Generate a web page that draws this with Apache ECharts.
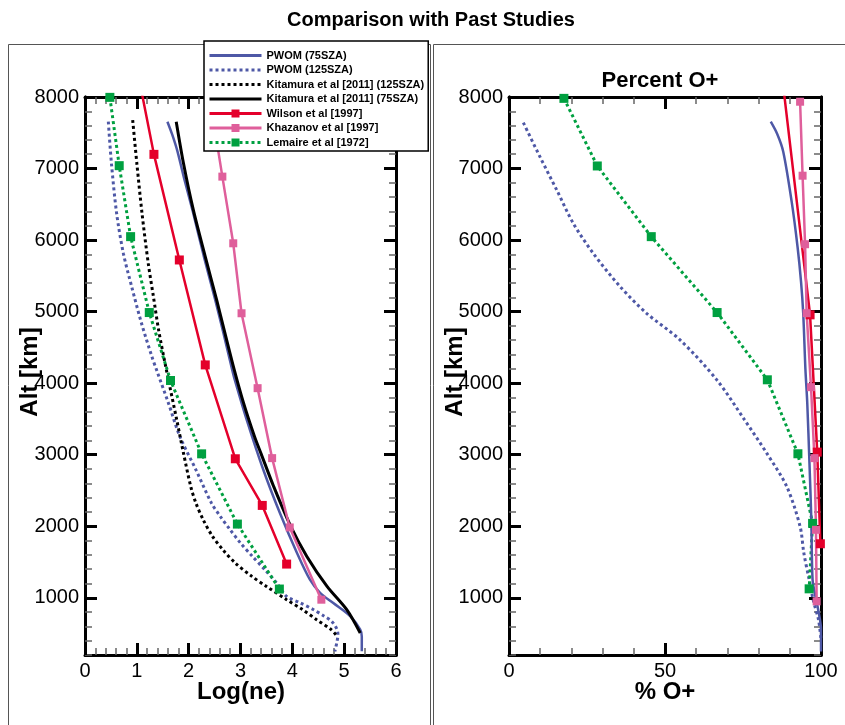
<!DOCTYPE html>
<html>
<head>
<meta charset="utf-8">
<script src="https://cdn.jsdelivr.net/npm/echarts@6/dist/echarts.min.js"></script>
<style>html,body{margin:0;padding:0;background:#fff}#c{width:845px;height:725px}</style>
</head>
<body>
<div id="c"></div>
<script>
// ---- data: [value, altitude km] ----
var altLabels = [1000, 2000, 3000, 4000, 5000, 6000, 7000, 8000];
var neTicks = [0, 1, 2, 3, 4, 5, 6];
var pctTicks = [0, 50, 100];

// Left panel: Log(ne)
var pwom75Ne = [[1.59,7655],[1.68,7480],[1.78,7250],[1.92,6840],[2.08,6400],[2.29,5780],[2.51,5170],[2.67,4700],[2.84,4186],[2.89,4046],[3.12,3487],[3.44,2789],[3.76,2184],[4.09,1625],[4.34,1252],[4.54,1066],[4.79,926],[5.12,740],[5.31,554],[5.34,460],[5.34,251]];
var pwom125Ne = [[0.45,7655],[0.51,7073],[0.61,6374],[0.74,5815],[0.90,5350],[1.09,4837],[1.29,4372],[1.38,4186],[1.61,3720],[1.83,3255],[2.14,2789],[2.44,2323],[2.61,2137],[2.80,1951],[3.00,1765],[3.23,1578],[3.47,1392],[3.70,1205],[3.89,1019],[4.15,930],[4.41,833],[4.60,750],[4.76,670],[4.86,560],[4.88,484],[4.86,380],[4.82,251]];
var kit125Ne = [[0.92,7678],[1.00,7073],[1.10,6374],[1.22,5676],[1.32,5210],[1.42,4744],[1.57,4186],[1.77,3487],[1.90,3022],[2.04,2556],[2.14,2323],[2.28,2091],[2.46,1858],[2.66,1671],[2.90,1485],[3.22,1299],[3.50,1159],[3.89,973],[4.20,833],[4.47,693],[4.75,554],[4.84,484]];
var kit75Ne = [[1.76,7655],[1.90,7073],[2.09,6421],[2.32,5769],[2.54,5163],[2.70,4700],[2.88,4186],[3.06,3720],[3.27,3255],[3.40,3008],[3.64,2556],[3.97,1997],[4.28,1578],[4.67,1159],[5.05,833],[5.31,507]];
var wilsonNe = [[1.03,8300],[1.33,7198],[1.82,5722],[2.32,4255],[2.90,2943],[3.42,2291],[3.89,1471]];
var khazNe = [[2.42,7930],[2.65,6887],[2.86,5955],[3.02,4977],[3.33,3930],[3.61,2952],[3.95,1983],[4.56,973]];
var lemaireNe = [[0.48,7995],[0.66,7040],[0.88,6048],[1.24,4987],[1.65,4037],[2.25,3012],[2.94,2030],[3.75,1122]];

// Right panel: % O+
var pwom75Pct = [[83.9,7655],[86.0,7480],[87.9,7236],[90.6,6537],[92.5,5900],[93.6,5420],[94.3,4978],[95.0,4200],[95.6,3720],[96.3,2883],[96.9,2091],[97.3,1253],[98.3,1000],[99.1,833],[100,560],[100,250]];
var pwom125Pct = [[4.6,7641],[9.9,7166],[15.3,6700],[20.6,6234],[27.0,5815],[35.6,5350],[44.1,4977],[54.8,4605],[66.6,4046],[75.5,3487],[82.6,3022],[89.0,2556],[93.3,1997],[94.5,1626],[96.2,1253],[97.6,950],[99.2,694],[100,420]];
var wilsonPct = [[87.5,8300],[96.5,4955],[98.8,3036],[99.8,1755]];
var khazPct = [[93.3,7934],[94.1,6900],[94.9,5942],[95.4,4978],[96.8,3944],[97.9,2952],[98.4,1950],[98.6,950]];
var lemairePct = [[17.6,7981],[28.3,7036],[45.6,6048],[66.7,4987],[82.8,4047],[92.6,3013],[97.3,2040],[96.2,1125]];

var names = ['PWOM (75SZA)','PWOM (125SZA)','Kitamura et al [2011] (125SZA)','Kitamura et al [2011] (75SZA)','Wilson et al [1997]','Khazanov et al [1997]','Lemaire et al [1972]'];
var hasMarker = [false, false, false, false, true, true, true];

var FONT = 'Liberation Sans, Arial, Helvetica, sans-serif';
var BLUE = '#4e58a6', RED = '#e4002b', PINK = '#df5f9b', GREEN = '#00a040', BLACK = '#000';

var minorAlt = [];
for (var a = 200; a <= 8000; a += 200) minorAlt.push(a);

function xAx(grid, pos, min, max, interval, labels) {
  return {
    type: 'value', gridIndex: grid, position: pos, min: min, max: max, interval: interval,
    axisLine: {show: true, onZero: false, lineStyle: {color: '#000', width: 3}},
    axisTick: {show: true, inside: true, length: 12, lineStyle: {color: '#000', width: 3}},
    minorTick: {show: true, splitNumber: 5, length: 7, lineStyle: {color: '#666', width: 1.5}},
    splitLine: {show: false}, minorSplitLine: {show: false},
    axisLabel: {show: labels, fontSize: 20, color: '#000', margin: 6, fontFamily: FONT}
  };
}
function xHidden(grid, min, max) {
  return {type: 'value', gridIndex: grid, min: min, max: max, show: false};
}
function yMinor(grid, pos, labels) {
  return {
    type: 'value', gridIndex: grid, position: pos, min: 200, max: 8000,
    axisLine: {show: true, onZero: false, lineStyle: {color: '#000', width: 3}},
    axisTick: {show: true, inside: true, length: 7, customValues: minorAlt, lineStyle: {color: '#666', width: 1.5}},
    splitLine: {show: false},
    axisLabel: {show: labels, customValues: altLabels, formatter: function (v) { return String(v); },
      fontSize: 20, color: '#000', margin: 6, fontFamily: FONT}
  };
}
function yMajor(grid, pos) {
  return {
    type: 'value', gridIndex: grid, position: pos, min: 200, max: 8000,
    axisLine: {show: true, onZero: false, lineStyle: {color: '#000', width: 3}},
    axisTick: {show: true, inside: true, length: 12, customValues: altLabels, lineStyle: {color: '#000', width: 3}},
    splitLine: {show: false},
    axisLabel: {show: false}
  };
}

function lineSeries(name, data, xi, yi, color, width, dotted, smooth, symbol, symSize) {
  return {
    name: name, type: 'line', data: data, xAxisIndex: xi, yAxisIndex: yi,
    smooth: smooth ? 0.3 : false,
    symbol: symbol || 'none', symbolSize: symSize || 0, showSymbol: !!symbol,
    clip: true,
    itemStyle: {color: color},
    lineStyle: {color: color, width: width, type: dotted ? [3, 3] : 'solid', cap: 'butt'},
    emphasis: {disabled: true},
    animation: false
  };
}

var series = [
  lineSeries(names[1], pwom125Ne, 0, 0, BLUE, 3, true, true),
  lineSeries(names[2], kit125Ne, 0, 0, BLACK, 3, true, true),
  lineSeries(names[0], pwom75Ne, 0, 0, BLUE, 2.5, false, true),
  lineSeries(names[3], kit75Ne, 0, 0, BLACK, 3, false, true),
  lineSeries(names[6], lemaireNe, 0, 0, GREEN, 3, true, false, 'rect', 9),
  lineSeries(names[4], wilsonNe, 0, 0, RED, 2.5, false, false, 'rect', 9),
  lineSeries(names[5], khazNe, 0, 0, PINK, 2.5, false, false, 'rect', 8),

  lineSeries(names[1], pwom125Pct, 2, 2, BLUE, 3, true, true),
  lineSeries(names[6], lemairePct, 2, 2, GREEN, 3, true, false, 'rect', 9),
  lineSeries(names[0], pwom75Pct, 2, 2, BLUE, 2.5, false, true),
  lineSeries(names[4], wilsonPct, 2, 2, RED, 2.5, false, false, 'rect', 9),
  lineSeries(names[5], khazPct, 2, 2, PINK, 2.5, false, false, 'rect', 8)
];

var legendData = names.map(function (n, i) {
  return hasMarker[i] ? {name: n} : {name: n, itemStyle: {opacity: 0, borderWidth: 0}};
});

var gL = {left: 85, top: 97, width: 311, height: 558, containLabel: false};
var gR = {left: 509, top: 97, width: 312, height: 558, containLabel: false};

var chart = echarts.init(document.getElementById('c'), null, {renderer: 'canvas'});
chart.setOption({
  backgroundColor: '#fff',
  animation: false,
  grid: [gL, gR, echarts.util.clone(gL), echarts.util.clone(gR)],
  xAxis: [
    xAx(0, 'bottom', 0, 6, 1, true),
    xAx(0, 'top', 0, 6, 1, false),
    xAx(1, 'bottom', 0, 100, 50, true),
    xAx(1, 'top', 0, 100, 50, false),
    xHidden(2, 0, 6),
    xHidden(3, 0, 100)
  ],
  yAxis: [
    yMinor(0, 'left', true), yMinor(0, 'right', false),
    yMinor(1, 'left', true), yMinor(1, 'right', false),
    yMajor(2, 'left'), yMajor(2, 'right'),
    yMajor(3, 'left'), yMajor(3, 'right')
  ],
  legend: {
    data: legendData, orient: 'vertical', left: 204, top: 41,
    backgroundColor: '#fff', borderColor: '#000', borderWidth: 1.5, borderRadius: 0,
    padding: [9, 4, 3, 4], itemWidth: 52, itemHeight: 10, itemGap: 3.5,
    selectedMode: false,
    lineStyle: {width: 3},
    textStyle: {fontSize: 11, fontWeight: 'bold', color: '#000', fontFamily: FONT}
  },
  graphic: [
    {type: 'rect', z: -10, shape: {x: 8.5, y: 44.5, width: 422, height: 700}, style: {fill: 'none', stroke: '#555', lineWidth: 1}},
    {type: 'rect', z: -10, shape: {x: 433.5, y: 44.5, width: 420, height: 700}, style: {fill: 'none', stroke: '#555', lineWidth: 1}},
    {type: 'text', x: 431, y: 20, style: {text: 'Comparison with Past Studies', font: 'bold 20px ' + FONT, fill: '#000', align: 'center', verticalAlign: 'middle'}},
    {type: 'text', x: 660, y: 81, style: {text: 'Percent O+', font: 'bold 22px ' + FONT, fill: '#000', align: 'center', verticalAlign: 'middle'}},
    {type: 'text', x: 241, y: 692, style: {text: 'Log(ne)', font: 'bold 24px ' + FONT, fill: '#000', align: 'center', verticalAlign: 'middle'}},
    {type: 'text', x: 665, y: 692, style: {text: '% O+', font: 'bold 24px ' + FONT, fill: '#000', align: 'center', verticalAlign: 'middle'}},
    {type: 'text', x: 30, y: 372, rotation: Math.PI / 2, style: {text: 'Alt [km]', font: 'bold 24px ' + FONT, fill: '#000', align: 'center', verticalAlign: 'middle'}},
    {type: 'text', x: 455, y: 372, rotation: Math.PI / 2, style: {text: 'Alt [km]', font: 'bold 24px ' + FONT, fill: '#000', align: 'center', verticalAlign: 'middle'}}
  ],
  series: series
});
</script>
</body>
</html>
